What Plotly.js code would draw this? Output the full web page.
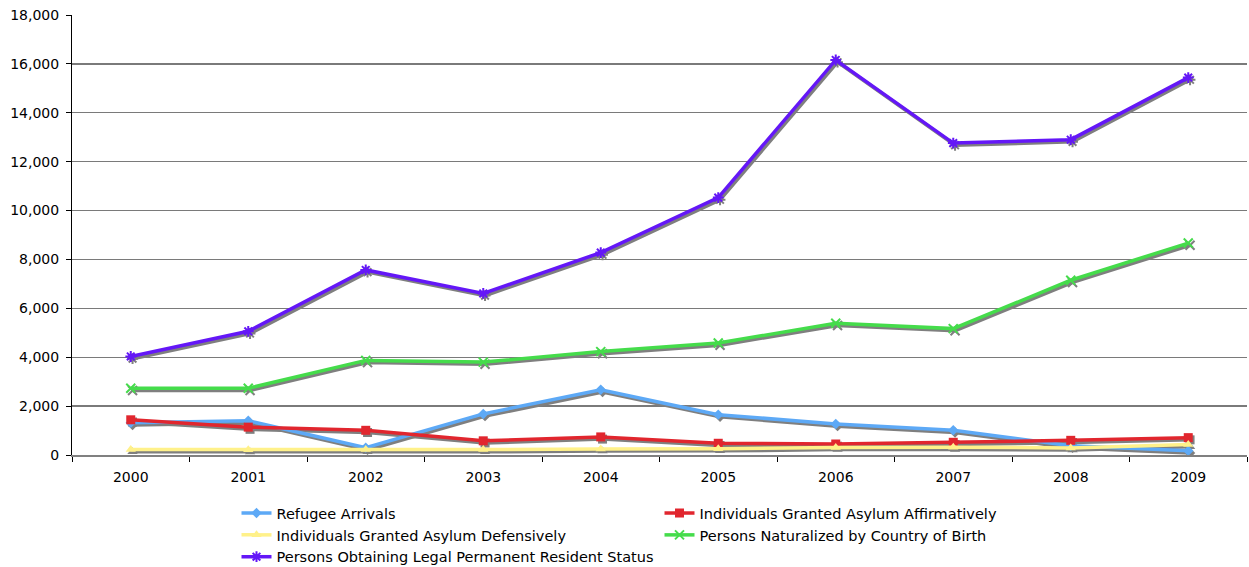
<!DOCTYPE html>
<html>
<head>
<meta charset="utf-8">
<script src="https://cdn.plot.ly/plotly-3.0.1.min.js"></script>
<style>html,body{margin:0;padding:0;background:#fff;}#chart{width:1249px;height:567px;}</style>
</head>
<body>
<div id="chart"></div>
<script>
const years = ["2000","2001","2002","2003","2004","2005","2006","2007","2008","2009"];
const refugeeArrivals = [1320, 1400, 300, 1680, 2670, 1650, 1270, 1010, 380, 170];
const asylumAffirmative = [1440, 1140, 1010, 580, 740, 480, 450, 520, 600, 710];
const asylumDefensive = [220, 210, 220, 220, 250, 260, 310, 320, 290, 430];
const naturalized = [2730, 2730, 3870, 3800, 4230, 4580, 5390, 5170, 7150, 8670];
const permanentResident = [4030, 5060, 7570, 6610, 8280, 10530, 16160, 12760, 12900, 15440];
const yTicks = [0, 2000, 4000, 6000, 8000, 10000, 12000, 14000, 16000, 18000];

const series = [
  {name: "Refugee Arrivals", y: refugeeArrivals, color: "#5DA9F6", symbol: "diamond", size: 8, lw: 0},
  {name: "Individuals Granted Asylum Affirmatively", y: asylumAffirmative, color: "#E1262E", symbol: "square", size: 9, lw: 0},
  {name: "Individuals Granted Asylum Defensively", y: asylumDefensive, color: "#FFF18A", symbol: "triangle-up", size: 9, lw: 0},
  {name: "Persons Naturalized by Country of Birth", y: naturalized, color: "#45DC4B", symbol: "x-thin-open", size: 9, lw: 2},
  {name: "Persons Obtaining Legal Permanent Resident Status", y: permanentResident, color: "#6417F7", symbol: "asterisk-open", size: 9, lw: 2}
];

const yMax = 18000;
const plotH = 440.5, plotW = 1175;
const dyUnits = 2.2 * yMax / plotH;
const dxUnits = 1.8 * 10 / plotW;

const traces = [];
// shadows
series.forEach(s => {
  traces.push({
    x: years, y: s.y, type: "scatter", mode: "lines+markers",
    xaxis: "x2", yaxis: "y2", showlegend: false, hoverinfo: "skip",
    line: {color: "#7f7f7f", width: 3.5},
    marker: {symbol: s.symbol, size: s.size, color: "#7f7f7f", line: {color: "#7f7f7f", width: s.lw}}
  });
});
series.forEach(s => {
  traces.push({
    x: years, y: s.y, type: "scatter", mode: "lines+markers", name: s.name,
    xaxis: "x3", yaxis: "y3",
    line: {color: s.color, width: 3.5},
    marker: {symbol: s.symbol, size: s.size, color: s.color, line: {color: s.color, width: s.lw}}
  });
});
traces.push({x: years, y: years.map(() => null), type: "scatter", mode: "lines", showlegend: false, hoverinfo: "skip", xaxis: "x", yaxis: "y"});

const font = "DejaVu Sans, Verdana, sans-serif";
const layout = {
  width: 1249, height: 567,
  margin: {l: 72, r: 2, t: 15, b: 111.5},
  paper_bgcolor: "#fff", plot_bgcolor: "#fff",
  font: {family: font, size: 14, color: "#000"},
  showlegend: true,
  xaxis: {
    type: "category", range: [-0.5, 9.5], tickson: "boundaries",
    ticks: "outside", ticklen: 5, tickcolor: "#000", tickwidth: 1,
    showgrid: false, showline: true, linecolor: "#808080", linewidth: 1.5,
    ticklabelstandoff: 9,
    tickfont: {family: font, size: 14, color: "#000"}, fixedrange: true
  },
  yaxis: {
    range: [0, yMax], tickmode: "array", tickvals: yTicks,
    ticktext: yTicks.map(v => v.toLocaleString("en-US")),
    ticks: "outside", ticklen: 5, tickcolor: "#000",
    showgrid: true, gridcolor: "#7a7a7a", gridwidth: 1.3, zeroline: false,
    showline: true, linecolor: "#000", linewidth: 1,
    ticklabelstandoff: 4,
    tickfont: {family: font, size: 14, color: "#000"}, fixedrange: true
  },
  xaxis2: {type: "category", overlaying: "x", range: [-0.5 - dxUnits, 9.5 - dxUnits], visible: false, fixedrange: true},
  yaxis2: {overlaying: "y", range: [dyUnits, yMax + dyUnits], visible: false, fixedrange: true},
  xaxis3: {type: "category", overlaying: "x", range: [-0.5, 9.5], visible: false, fixedrange: true},
  yaxis3: {overlaying: "y", range: [0, yMax], visible: false, fixedrange: true},
  legend: {
    orientation: "h", xref: "paper", x: 0.14, xanchor: "left",
    yref: "container", y: 0.1233, yanchor: "top",
    entrywidth: 378, entrywidthmode: "pixels", traceorder: "normal",
    font: {family: font, size: 14.5, color: "#000"}, bgcolor: "rgba(0,0,0,0)", itemclick: false, itemdoubleclick: false
  }
};

Plotly.newPlot("chart", traces, layout, {displayModeBar: false, staticPlot: true});
</script>
</body>
</html>
